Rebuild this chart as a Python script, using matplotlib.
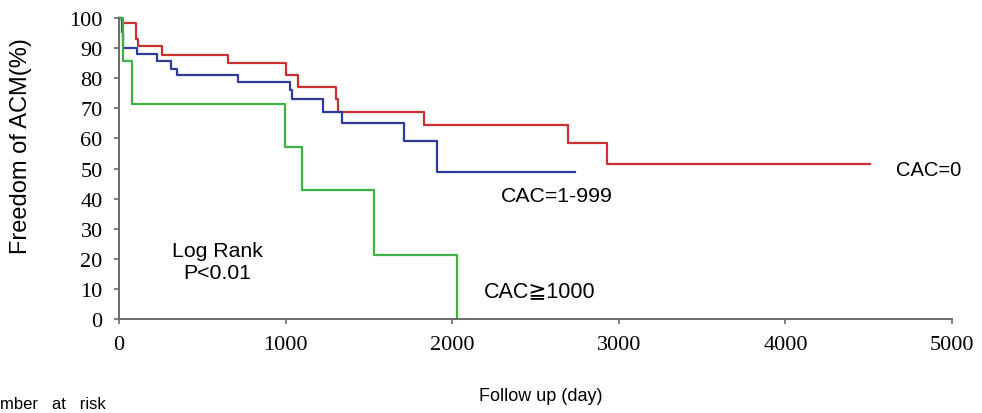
import matplotlib
matplotlib.use("Agg")
import matplotlib.pyplot as plt

# Kaplan-Meier step data (days, % freedom from ACM)
red_t = [0, 16, 104, 114, 255, 652, 1001, 1075, 1301, 1312, 1829, 2696, 2928, 4505]
red_v = [100, 98.2, 93.0, 90.6, 87.7, 84.9, 81.2, 77.2, 73.2, 68.8, 64.6, 58.6, 51.4, 51.4]

blue_t = [0, 18, 26, 108, 230, 310, 346, 715, 1025, 1041, 1223, 1337, 1710, 1911, 2736]
blue_v = [100, 95.3, 89.9, 88.0, 85.6, 83.2, 81.0, 78.6, 76.1, 73.0, 68.8, 65.0, 59.1, 49.0, 49.0]

green_t = [0, 22, 80, 994, 1100, 1529, 2031]
green_v = [100, 85.7, 71.4, 57.1, 42.9, 21.2, 0]

x_ticks = [0, 1000, 2000, 3000, 4000, 5000]
y_ticks = [0, 10, 20, 30, 40, 50, 60, 70, 80, 90, 100]

fig = plt.figure(figsize=(9.82, 4.14), dpi=100)
ax = fig.add_axes([0.1212, 0.227, 0.8483, 0.727])

ax.step(red_t, red_v, where='post', color='#cc2f2f', lw=1.6, clip_on=False)
ax.step(blue_t, blue_v, where='post', color='#2d3c9c', lw=1.6, clip_on=False)
ax.step(green_t, green_v, where='post', color='#3fb044', lw=1.6, clip_on=False)

ax.set_xlim(0, 5000)
ax.set_ylim(0, 100)
ax.set_xticks(x_ticks)
ax.set_yticks(y_ticks)
serif = 'Liberation Serif'
ax.set_xticklabels([str(v) for v in x_ticks], fontfamily=serif, fontsize=16)
ax.set_yticklabels([str(v) for v in y_ticks], fontfamily=serif, fontsize=16)
for s in ['top', 'right']:
    ax.spines[s].set_visible(False)
for s in ['left', 'bottom']:
    ax.spines[s].set_color('#6a6a6a')
    ax.spines[s].set_linewidth(1.4)
ax.tick_params(axis='both', direction='out', length=3.8, width=1.2, color='#6a6a6a', pad=8)

sans = ['Liberation Sans', 'DejaVu Sans']
ax.set_ylabel('Freedom of ACM(%)', family=sans, fontsize=17)
ax.yaxis.set_label_coords(-0.104, 0.578)

ax.text(4666, 49.8, 'CAC=0', family=sans, fontsize=14.5, va='center', ha='left')
ax.text(2291, 40.9, 'CAC=1-999', family=sans, fontsize=15.3, va='center', ha='left')
ax.text(2189, 9.3, 'CAC\u22671000', family=sans, fontsize=15.5, va='center', ha='left')
ax.text(589, 19.0, 'Log Rank\nP<0.01', family=sans, fontsize=15.3, va='center', ha='center',
        multialignment='center', linespacing=1.2)

fig.text(541 / 982, 1 - 397 / 414, 'Follow up (day)', family=sans, fontsize=13, ha='center', va='center')
fig.text(0.0, 1 - 405 / 414, 'mber   at   risk', family=sans, fontsize=12, ha='left', va='center')

fig.savefig('out.png', dpi=100)
